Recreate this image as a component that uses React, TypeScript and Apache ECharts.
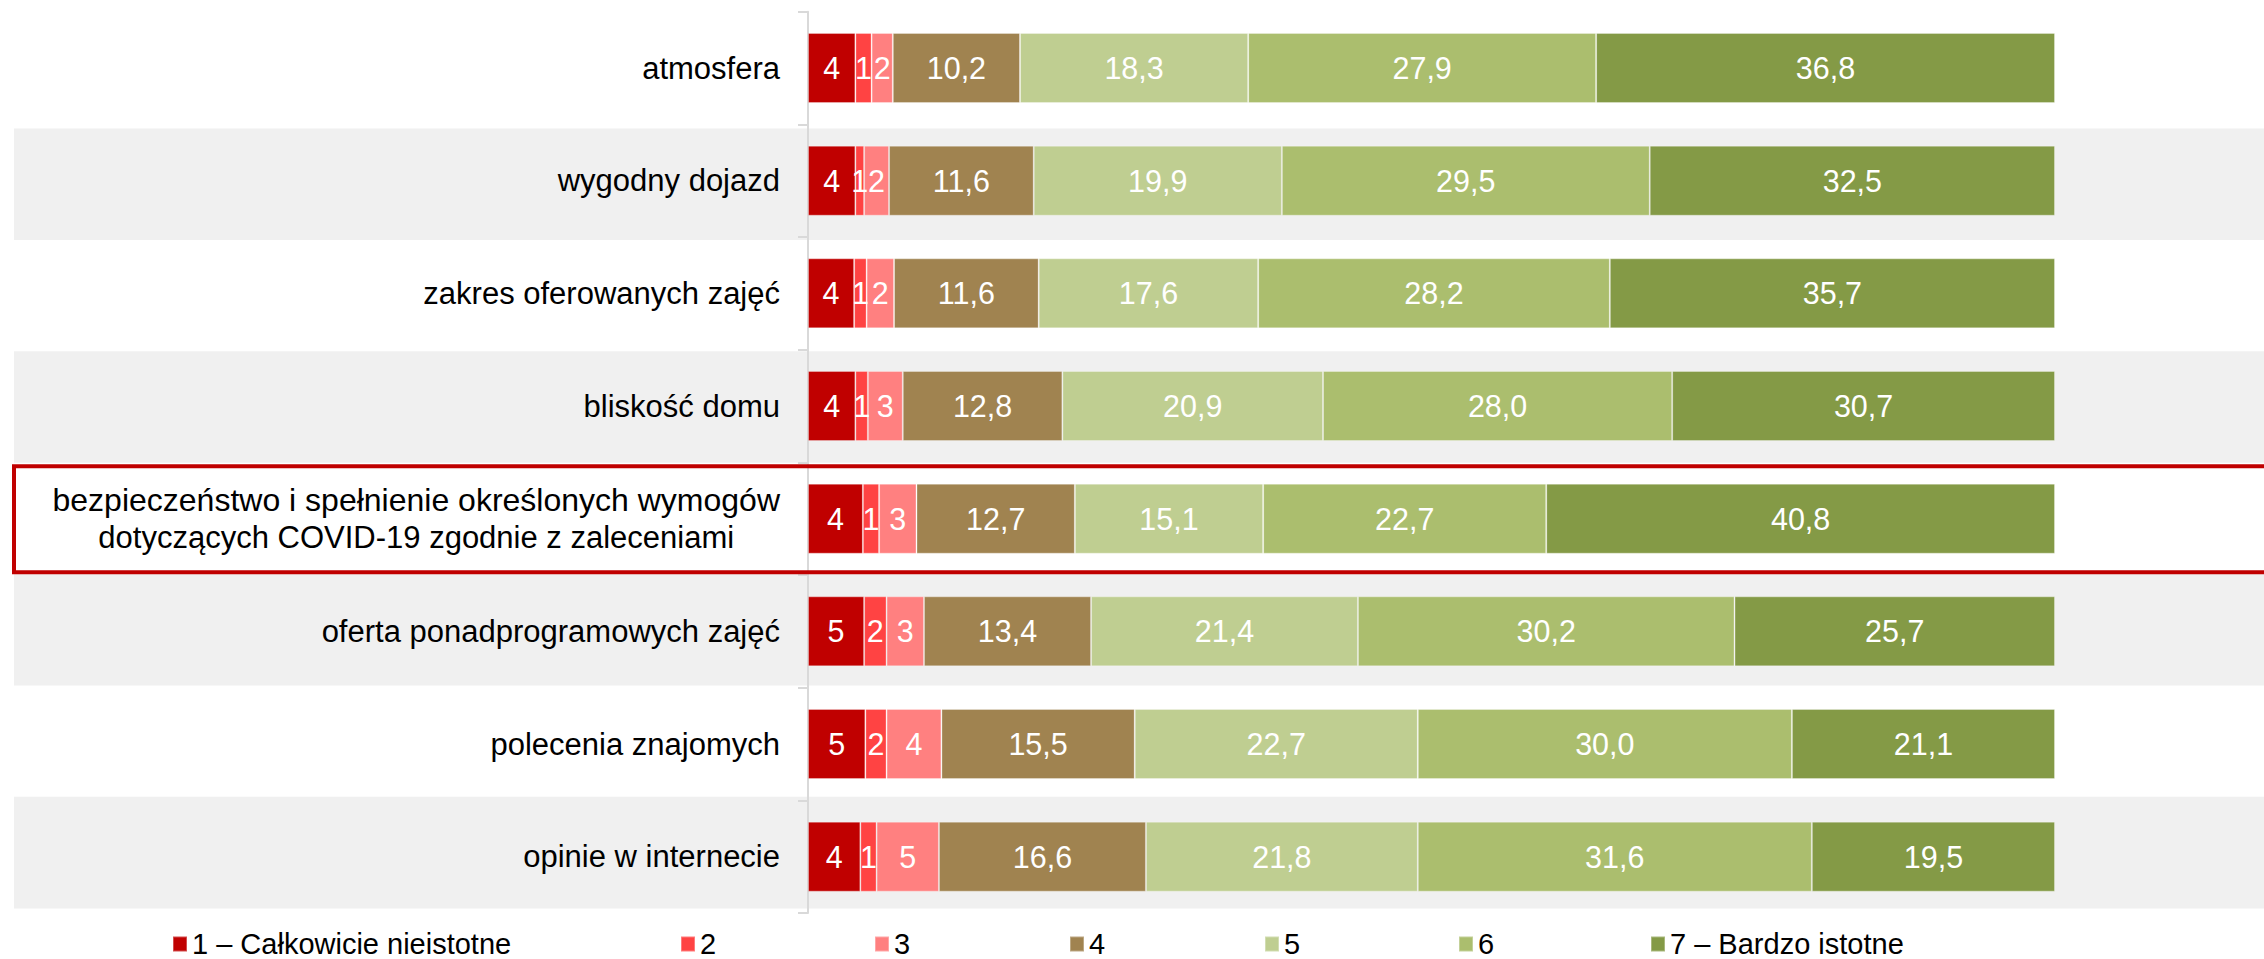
import React, { useEffect, useRef } from "react";
import * as echarts from "echarts";

const LONG_CAT = "bezpieczeństwo i spełnienie określonych wymogów dotyczących COVID-19 zgodnie z zaleceniami";
const categories = [
  "atmosfera",
  "wygodny dojazd",
  "zakres oferowanych zajęć",
  "bliskość domu",
  LONG_CAT,
  "oferta ponadprogramowych zajęć",
  "polecenia znajomych",
  "opinie w internecie",
];
const seriesNames = ["1 – Całkowicie nieistotne", "2", "3", "4", "5", "6", "7 – Bardzo istotne"];
const s1 = [3.8, 3.8, 3.7, 3.8, 4.4, 4.5, 4.6, 4.2];
const s2 = [1.3, 0.7, 1.0, 1.0, 1.3, 1.8, 1.7, 1.3];
const s3 = [1.7, 2.0, 2.2, 2.8, 3.0, 3.0, 4.4, 5.0];
const s4 = [10.2, 11.6, 11.6, 12.8, 12.7, 13.4, 15.5, 16.6];
const s5 = [18.3, 19.9, 17.6, 20.9, 15.1, 21.4, 22.7, 21.8];
const s6 = [27.9, 29.5, 28.2, 28.0, 22.7, 30.2, 30.0, 31.6];
const s7 = [36.8, 32.5, 35.7, 30.7, 40.8, 25.7, 21.1, 19.5];
const seriesData = [s1, s2, s3, s4, s5, s6, s7];
const colors = ["#c00000", "#ff4343", "#ff8080", "#a08350", "#bfce91", "#abbe6e", "#849a46"];
const legendLeft = [172, 680, 874, 1069, 1264, 1458, 1650];

const FONT = "'Liberation Sans', Arial, sans-serif";

export default function App() {
  const ref = useRef<HTMLDivElement>(null);
  useEffect(() => {
    if (!ref.current) return;
    const chart = echarts.init(ref.current, undefined, { renderer: "svg" });
    const option: any = {
      animation: false,
      backgroundColor: "#ffffff",
      textStyle: { fontFamily: FONT },
      grid: { left: 808, top: 11.7, width: 1247, height: 901.3, containLabel: false },
      xAxis: { type: "value", min: 0, max: 100, show: false },
      yAxis: {
        type: "category",
        data: categories,
        inverse: true,
        axisLine: { show: true, lineStyle: { color: "#d9d9d9", width: 2 } },
        axisTick: { show: true, length: 10, lineStyle: { color: "#d9d9d9", width: 2 } },
        axisLabel: {
          margin: 28,
          color: "#000",
          fontSize: 31,
          fontFamily: FONT,
          formatter: (v: string) =>
            v === LONG_CAT
              ? "{a|bezpieczeństwo i spełnienie określonych wymogów}\n{c|dotyczących COVID-19 zgodnie z zaleceniami}"
              : v,
          rich: {
            a: { align: "center", fontSize: 32, lineHeight: 37, color: "#000", fontFamily: FONT },
            c: { align: "center", fontSize: 31, lineHeight: 37, color: "#000", fontFamily: FONT },
          },
        },
        splitLine: { show: false },
      },
      legend: seriesNames.map((n, i) => ({
        data: [n],
        left: legendLeft[i],
        top: 929.5,
        padding: 0,
        itemWidth: 14,
        itemHeight: 15,
        icon: "rect",
        selectedMode: false,
        textStyle: { fontSize: 29, color: "#000", fontFamily: FONT, lineHeight: 29 },
      })),
      series: seriesNames.map((n, i) => ({
        name: n,
        type: "bar",
        stack: "total",
        barWidth: 70,
        data: seriesData[i],
        itemStyle: { color: colors[i], borderColor: "rgba(255,255,255,0.3)", borderWidth: 1 },
        label: {
          show: true,
          position: "inside",
          color: "#fff",
          fontSize: 30.5,
          fontFamily: FONT,
          formatter: (p: any) =>
            i < 3 ? String(Math.round(p.value)) : Number(p.value).toFixed(1).replace(".", ","),
        },
      })),
    };
    chart.setOption(option);
    const centers = categories.map((c) => chart.convertToPixel({ yAxisIndex: 0 }, c) as number);
    const graphics: any[] = [];
    // alternating worksheet-like stripes (slightly different pitch than the bands)
    const stripePitch = 111.4;
    const stripeTop = centers[1] - 52.3;
    centers.forEach((_c, i) => {
      if (i % 2 === 1) {
        graphics.push({
          type: "rect",
          silent: true,
          z: -10,
          shape: { x: 14, y: stripeTop + (i - 1) * stripePitch, width: 2264, height: 111.6 },
          style: { fill: "#f0f0f0" },
        });
      }
    });
    const ci = categories.indexOf(LONG_CAT);
    graphics.push({
      type: "rect",
      silent: true,
      z: 100,
      shape: { x: 14, y: centers[ci] - 52.5, width: 2300, height: 106 },
      style: { fill: "none", stroke: "#c00000", lineWidth: 4 },
    });
    chart.setOption({ graphic: graphics });
    return () => chart.dispose();
  }, []);
  return (
    <div
      ref={ref}
      style={{ position: "fixed", left: 0, top: 0, width: 2264, height: 959, background: "#fff" }}
    />
  );
}
